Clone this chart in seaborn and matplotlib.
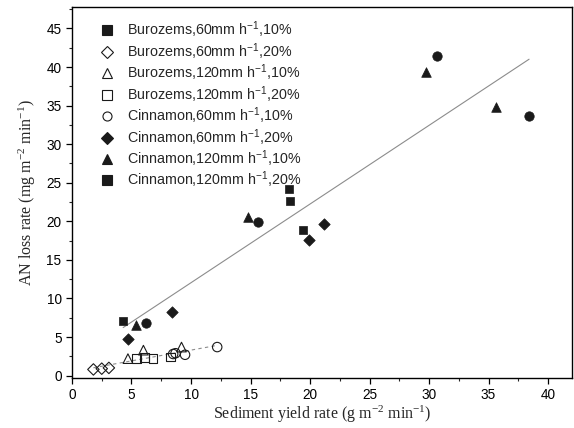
import numpy as np
import matplotlib
matplotlib.use("Agg")
import matplotlib.pyplot as plt
from matplotlib.lines import Line2D
from matplotlib.ticker import MultipleLocator
import seaborn as sns

# filled markers (high group)
sq_filled_x = [4.3, 18.2, 18.3, 19.4]
sq_filled_y = [7.1, 24.2, 22.6, 18.9]
dia_filled_x = [4.7, 8.4, 19.9, 21.2]
dia_filled_y = [4.7, 8.2, 17.6, 19.7]
tri_filled_x = [5.4, 14.8, 29.7, 35.6]
tri_filled_y = [6.6, 20.6, 39.4, 34.8]
circ_filled_x = [6.2, 15.6, 30.7, 38.4]
circ_filled_y = [6.8, 19.9, 41.4, 33.6]

# open markers (low group)
dia_open_x = [1.8, 2.5, 3.1]
dia_open_y = [0.8, 0.9, 1.0]
tri_open_x = [4.7, 6.0, 9.2]
tri_open_y = [2.2, 3.3, 3.7]
sq_open_x = [5.4, 6.1, 6.8, 8.3]
sq_open_y = [2.2, 2.3, 2.2, 2.4]
circ_open_x = [8.5, 8.7, 9.5, 12.2]
circ_open_y = [2.8, 2.9, 2.7, 3.7]

legend_labels = [
    "Burozems,60mm h$^{-1}$,10%",
    "Burozems,60mm h$^{-1}$,20%",
    "Burozems,120mm h$^{-1}$,10%",
    "Burozems,120mm h$^{-1}$,20%",
    "Cinnamon,60mm h$^{-1}$,10%",
    "Cinnamon,60mm h$^{-1}$,20%",
    "Cinnamon,120mm h$^{-1}$,10%",
    "Cinnamon,120mm h$^{-1}$,20%",
]
legend_markers = ["s", "D", "^", "s", "o", "D", "^", "s"]
legend_filled = [True, False, False, False, False, True, True, True]

sns.set_style("ticks")
plt.rcParams["font.family"] = ["Liberation Sans", "DejaVu Sans"]
plt.rcParams["mathtext.default"] = "regular"

ink = "#1a1a1a"
fig = plt.figure(figsize=(5.74, 4.28), dpi=100)
ax = fig.add_axes([0.1254, 0.117, 0.871, 0.867])

filled = [(sq_filled_x, sq_filled_y, "s", 40), (dia_filled_x, dia_filled_y, "D", 34),
          (tri_filled_x, tri_filled_y, "^", 48), (circ_filled_x, circ_filled_y, "o", 46)]
opened = [(dia_open_x, dia_open_y, "D", 34), (tri_open_x, tri_open_y, "^", 48),
          (sq_open_x, sq_open_y, "s", 40), (circ_open_x, circ_open_y, "o", 46)]

# fit lines
hx = np.concatenate([np.array(a[0]) for a in filled])
hy = np.concatenate([np.array(a[1]) for a in filled])
lx = np.concatenate([np.array(a[0]) for a in opened])
ly = np.concatenate([np.array(a[1]) for a in opened])
sns.regplot(x=hx, y=hy, ax=ax, scatter=False, ci=None, truncate=True,
            line_kws=dict(color="#8c8c8c", lw=0.8))
sns.regplot(x=lx, y=ly, ax=ax, scatter=False, ci=None, truncate=True,
            line_kws=dict(color="#8c8c8c", lw=0.8, ls=(0, (3, 3))))

for xs, ys, m, s in filled:
    sns.scatterplot(x=xs, y=ys, marker=m, s=s, color=ink, edgecolor=ink,
                    linewidth=0.5, ax=ax, zorder=3)
for xs, ys, m, s in opened:
    sns.scatterplot(x=xs, y=ys, marker=m, s=s, color=ink, linewidth=0.8,
                    ax=ax, zorder=3)
    ax.collections[-1].set_facecolor("none")
    ax.collections[-1].set_edgecolor(ink)

handles = []
for m, f in zip(legend_markers, legend_filled):
    handles.append(Line2D([], [], ls="none", marker=m, markersize=6.5,
                          markerfacecolor=ink if f else "none",
                          markeredgecolor=ink, markeredgewidth=0.8))
ax.legend(handles, legend_labels, loc="upper left", bbox_to_anchor=(0.045, 0.981),
          frameon=False, fontsize=10.3, handletextpad=0.9, labelspacing=0.06,
          borderaxespad=0, handlelength=1.0)

ax.set_xlim(0, 42)
ax.set_ylim(-0.3, 47.8)
ax.xaxis.set_major_locator(MultipleLocator(5))
ax.xaxis.set_minor_locator(MultipleLocator(2.5))
ax.yaxis.set_major_locator(MultipleLocator(5))
ax.yaxis.set_minor_locator(MultipleLocator(2.5))
ax.tick_params(which="major", direction="out", length=4, width=0.9, labelsize=9.8, colors="black")
ax.tick_params(which="minor", direction="out", length=2.5, width=0.8)
for sp in ax.spines.values():
    sp.set_visible(True)
    sp.set_linewidth(1.0)
    sp.set_color("black")

ax.set_xlabel("Sediment yield rate (g m$^{-2}$ min$^{-1}$)", family="Liberation Serif",
              fontsize=11.5, labelpad=1)
ax.set_ylabel("AN loss rate (mg m$^{-2}$ min$^{-1}$)", family="Liberation Serif",
              fontsize=11.5, labelpad=6)

fig.savefig("out.png", dpi=100)
